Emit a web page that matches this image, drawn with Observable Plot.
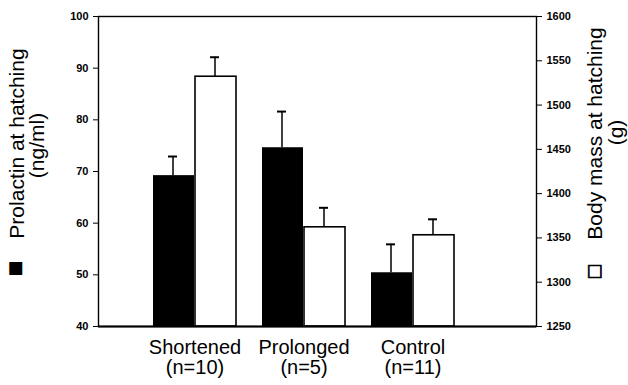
<!DOCTYPE html>
<html>
<head>
<meta charset="utf-8">
<script src="https://cdn.jsdelivr.net/npm/d3@7"></script>
<script src="https://cdn.jsdelivr.net/npm/@observablehq/plot@0.6"></script>
<style>
  html, body { margin: 0; padding: 0; background: #fff; }
  #chart { width: 628px; height: 385px; }
</style>
</head>
<body>
<div id="chart"></div>
<script>
// ---- data ----
const groups = ["Shortened", "Prolonged", "Control"];
const groupLabels = ["Shortened\n(n=10)", "Prolonged\n(n=5)", "Control\n(n=11)"];
const prolactin = [69.2, 74.6, 50.4];        // ng/ml
const prolactinSE = [3.7, 7.0, 5.5];
const bodyMass = [1532, 1362, 1353];         // g
const bodyMassSE = [22, 22, 18];
const prolactinTicks = [40, 50, 60, 70, 80, 90, 100];
const massTicks = [1250, 1300, 1350, 1400, 1450, 1500, 1550, 1600];
const leftTitle = ["Prolactin at hatching", "(ng/ml)"];
const rightTitle = ["Body mass at hatching", "(g)"];

// map the right-hand (body mass) scale onto the left-hand (prolactin) scale
const pDomain = [40, 100], mDomain = [1250, 1600];
const m2p = m => pDomain[0] + (m - mDomain[0]) * (pDomain[1] - pDomain[0]) / (mDomain[1] - mDomain[0]);
const p2m = p => mDomain[0] + (p - pDomain[0]) * (mDomain[1] - mDomain[0]) / (pDomain[1] - pDomain[0]);

const pData = groups.map((g, i) => ({group: g, value: prolactin[i], top: prolactin[i] + prolactinSE[i]}));
const mData = groups.map((g, i) => ({group: g, value: m2p(bodyMass[i]), top: m2p(bodyMass[i] + bodyMassSE[i])}));
const labelOf = Object.fromEntries(groups.map((g, i) => [g, groupLabels[i]]));

const font = "'Liberation Sans', Arial, Helvetica, sans-serif";

const chart = Plot.plot({
  width: 628,
  height: 385,
  marginLeft: 98,
  marginRight: 92,
  marginTop: 16,
  marginBottom: 59,
  style: {fontFamily: font, color: "#000", background: "#fff", overflow: "visible"},
  x: {domain: groups, paddingInner: 0.236, paddingOuter: 0.609, align: 0.40, label: null},
  y: {domain: pDomain, label: null},
  marks: [
    // bars
    Plot.barY(pData, {x: "group", y1: pDomain[0], y2: "value", fill: "#000", insetRight: 42}),
    Plot.barY(mData, {x: "group", y1: pDomain[0], y2: "value", fill: "#fff", stroke: "#000", strokeWidth: 1.6, insetLeft: 42}),
    // error bars (upper only)
    Plot.ruleX(pData, {x: "group", y1: "value", y2: "top", dx: -22, stroke: "#000", strokeWidth: 1.5}),
    Plot.tickY(pData, {x: "group", y: "top", dx: -22, insetLeft: 37, insetRight: 37, stroke: "#000", strokeWidth: 2}),
    Plot.ruleX(mData, {x: "group", y1: "value", y2: "top", dx: 20, stroke: "#000", strokeWidth: 1.5}),
    Plot.tickY(mData, {x: "group", y: "top", dx: 20, insetLeft: 37, insetRight: 37, stroke: "#000", strokeWidth: 2}),
    // frame
    Plot.frame({stroke: "#000", strokeWidth: 1.4}),
    Plot.ruleY([pDomain[0]], {stroke: "#000", strokeWidth: 2}),
    // axes
    Plot.axisY({anchor: "left", ticks: prolactinTicks, tickSize: 5, tickPadding: 5, fontSize: 11, fontWeight: "bold", label: null}),
    Plot.axisY({anchor: "right", ticks: massTicks.map(m2p), tickFormat: d => String(Math.round(p2m(d))), tickSize: 5, tickPadding: 5, fontSize: 11, fontWeight: "bold", label: null}),
    Plot.axisX({anchor: "bottom", tickSize: 0, tickPadding: 13, fontSize: 20, lineHeight: 1.0, tickFormat: d => labelOf[d], label: null}),
    // axis titles (rotated)
    Plot.text([leftTitle[0]], {text: d => d, frameAnchor: "left", textAnchor: "middle", rotate: -90, dx: -81, dy: -28, fontSize: 21, lineAnchor: "middle"}),
    Plot.text([leftTitle[1]], {text: d => d, frameAnchor: "left", textAnchor: "middle", rotate: -90, dx: -61, dy: -26, fontSize: 21, lineAnchor: "middle"}),
    Plot.text(["\u25A0"], {text: d => d, frameAnchor: "left", textAnchor: "middle", dx: -83, dy: 96, fontSize: 17, fontFamily: "DejaVu Sans", fill: "#000", lineAnchor: "middle"}),
    Plot.text([rightTitle[0]], {text: d => d, frameAnchor: "right", textAnchor: "middle", rotate: -90, dx: 59, dy: -38, fontSize: 21, lineAnchor: "middle"}),
    Plot.text([rightTitle[1]], {text: d => d, frameAnchor: "right", textAnchor: "middle", rotate: -90, dx: 80, dy: -39, fontSize: 21, lineAnchor: "middle"}),
    Plot.text(["\u25A1"], {text: d => d, frameAnchor: "right", textAnchor: "middle", dx: 58, dy: 99, fontSize: 17, fontFamily: "DejaVu Sans", fill: "#000", stroke: "#000", strokeWidth: 0.7, lineAnchor: "middle"})
  ]
});

document.getElementById("chart").appendChild(chart);
</script>
</body>
</html>
